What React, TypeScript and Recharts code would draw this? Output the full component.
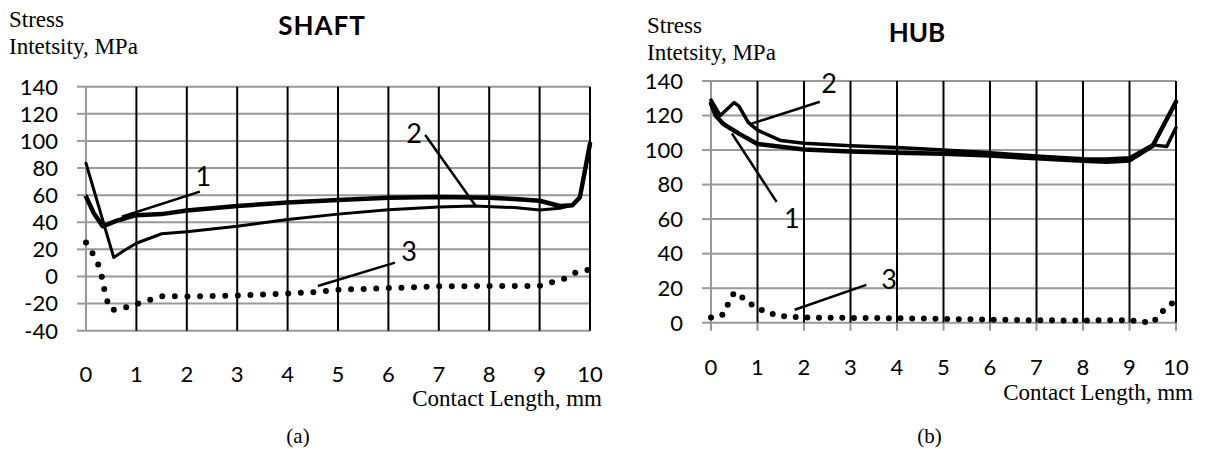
import { LineChart, Line, XAxis, YAxis, CartesianGrid, ReferenceLine, ReferenceDot } from "recharts"

// contact length ticks, mm
const xTicks = [0, 1, 2, 3, 4, 5, 6, 7, 8, 9, 10]
const shaftYTicks = [-40, -20, 0, 20, 40, 60, 80, 100, 120, 140]
const hubYTicks = [0, 20, 40, 60, 80, 100, 120, 140]

// SHAFT, curve 1 (thick)
const shaft1X = [0, 0.15, 0.33, 0.6, 1, 1.5, 2, 3, 4, 5, 6, 7, 8, 8.5, 9, 9.4, 9.65, 9.8, 10]
const shaft1Y = [59, 47, 37, 41, 45.2, 46, 48.6, 52, 54.5, 56.5, 58, 58.7, 58, 57.2, 55.9, 52, 52.5, 58.5, 98]
// SHAFT, curve 2
const shaft2X = [0, 0.55, 0.75, 1, 1.5, 2, 3, 4, 5, 6, 7, 7.7, 8.5, 9, 9.4, 9.65, 9.8, 10]
const shaft2Y = [83.5, 14, 19, 24.5, 31.5, 33, 37, 42, 46, 49.3, 51.3, 52, 50.8, 49, 50.3, 52.5, 58, 97]
// SHAFT, curve 3 (dotted)
const shaft3X = [0, 0.13, 0.24, 0.31, 0.36, 0.42, 0.5, 0.75, 1, 1.25, 1.5, 2, 3, 4, 4.5, 5, 6, 7, 8, 9, 9.25, 9.5, 9.75, 10]
const shaft3Y = [25, 17, 9, 0.5, -9, -18, -25, -23.2, -20.3, -17.5, -14.5, -14.8, -14, -12.5, -11.6, -9.8, -8.6, -7.3, -7, -7, -4.2, -1.5, 3.6, 5]

// HUB, curve 1 (thick)
const hub1X = [0, 0.1, 0.27, 0.6, 1, 2, 3, 4, 5, 6, 7, 8, 8.5, 9, 9.5, 10]
const hub1Y = [127, 120, 115, 109.5, 103.5, 100.3, 99.2, 98.4, 97.8, 96.8, 95.2, 93.8, 93.2, 94, 102.5, 128]
// HUB, curve 2
const hub2X = [0, 0.2, 0.5, 0.6, 0.8, 1, 1.5, 2, 3, 4, 5, 6, 7, 8, 8.5, 9, 9.5, 9.8, 10]
const hub2Y = [129, 120, 127.5, 125.5, 116, 111.5, 105.5, 104, 102.5, 101.5, 100, 98.5, 96.5, 95, 94.8, 95.5, 103, 102, 113]
// HUB, curve 3 (dotted)
const hub3X = [0, 0.25, 0.37, 0.5, 0.72, 0.77, 1, 1.25, 1.5, 1.75, 2, 3, 4, 5, 6, 7, 8, 9, 9.25, 9.5, 9.66, 9.77, 10]
const hub3Y = [3, 4.6, 11, 17.5, 13.8, 12.4, 8.3, 5.6, 3.8, 3.5, 3, 2.8, 2.6, 2.2, 1.8, 1.4, 1.3, 1.5, 0.6, 0, 5.2, 8.2, 13]

// curve labels: text point and leader line ends, in data units
const shaftNotes = [
  { text: "1", at: [2.33, 73.5], from: [2.26, 62.6], to: [0.71, 44.1] },
  { text: "2", at: [6.51, 105.6], from: [6.73, 104.4], to: [7.74, 51.6] },
  { text: "3", at: [6.41, 18.3], from: [6.13, 10.2], to: [4.6, -7] },
]
const hubNotes = [
  { text: "1", at: [1.74, 60.2], from: [1.41, 70], to: [0.45, 109.6] },
  { text: "2", at: [2.54, 138.5], from: [2.34, 128], to: [0.84, 115] },
  { text: "3", at: [3.83, 24.8], from: [3.34, 21.9], to: [1.8, 7.5] },
]

const zip = (xs: number[], ys: number[]) => xs.map((x, i) => ({ x, y: ys[i] }))

const GRID = "#999"
const tickFont = { fill: "#000", fontSize: 22, fontFamily: "Lato" }

type Note = { text: string; at: number[]; from: number[]; to: number[] }

function Panel(props: {
  width: number
  height: number
  margin: { top: number; right: number; bottom: number; left: number }
  yTicks: number[]
  curves: { data: { x: number; y: number }[]; width: number; dotted?: boolean }[]
  notes: Note[]
  dotGap: number
  xTickMarks: boolean
}) {
  const { yTicks } = props
  return (
    <LineChart width={props.width} height={props.height} margin={props.margin}>
      <CartesianGrid horizontal vertical={false} stroke={GRID} strokeWidth={2} />
      <XAxis
        type="number"
        dataKey="x"
        domain={[0, 10]}
        ticks={xTicks}
        interval={0}
        height={50}
        axisLine={false}
        tickLine={props.xTickMarks ? { stroke: GRID, strokeWidth: 2 } : false}
        tickSize={props.xTickMarks ? 8 : 0}
        tickMargin={props.xTickMarks ? 28.5 : 35.5}
        tick={tickFont}
      />
      <YAxis
        type="number"
        domain={[yTicks[0], yTicks[yTicks.length - 1]]}
        ticks={yTicks}
        interval={0}
        width={60}
        axisLine={false}
        tickLine={{ stroke: GRID, strokeWidth: 2 }}
        tickSize={9}
        tickMargin={19}
        tick={tickFont}
      />
      {xTicks.map((t) => (
        <ReferenceLine key={"v" + t} x={t} stroke={t === 0 ? GRID : "#000"} strokeWidth={2} />
      ))}
      {props.curves.map((c, i) => (
        <Line
          key={i}
          data={c.data}
          dataKey="y"
          type="linear"
          stroke="#000"
          strokeWidth={c.width}
          strokeLinejoin="round"
          strokeLinecap="round"
          strokeDasharray={c.dotted ? `0 ${props.dotGap}` : undefined}
          dot={false}
          activeDot={false}
          isAnimationActive={false}
        />
      ))}
      {props.notes.map((n) => (
        <ReferenceLine
          key={"l" + n.text}
          segment={[
            { x: n.from[0], y: n.from[1] },
            { x: n.to[0], y: n.to[1] },
          ]}
          stroke="#000"
          strokeWidth={2.5}
        />
      ))}
      {props.notes.map((n) => (
        <ReferenceDot
          key={"t" + n.text}
          x={n.at[0]}
          y={n.at[1]}
          r={0}
          fill="none"
          stroke="none"
          label={{ value: n.text, position: "center", fill: "#000", fontSize: 27, fontFamily: "Lato" }}
        />
      ))}
    </LineChart>
  )
}

const serif = { fontFamily: "'Liberation Serif', 'Times New Roman', serif", fontSize: 23, lineHeight: "27px", color: "#000" }
const title = { fontFamily: "Lato", fontWeight: 700, fontSize: 26, lineHeight: "30px", color: "#000" }

export default function App() {
  return (
    <div style={{ position: "absolute", left: 0, top: 0, width: 1205, height: 449, background: "#fff", overflow: "hidden" }}>
      <div style={{ position: "absolute", left: 0, top: 0 }}>
        <Panel
          width={625}
          height={449}
          margin={{ top: 86.7, right: 35, bottom: 68.3, left: 26 }}
          yTicks={shaftYTicks}
          curves={[
            { data: zip(shaft2X, shaft2Y), width: 3 },
            { data: zip(shaft1X, shaft1Y), width: 4.5 },
            { data: zip(shaft3X, shaft3Y), width: 6, dotted: true },
          ]}
          notes={shaftNotes}
          dotGap={12.6}
          xTickMarks={false}
        />
      </div>
      <div style={{ position: "absolute", left: 600, top: 0 }}>
        <Panel
          width={605}
          height={449}
          margin={{ top: 81, right: 29, bottom: 76.3, left: 51 }}
          yTicks={hubYTicks}
          curves={[
            { data: zip(hub2X, hub2Y), width: 3.5 },
            { data: zip(hub1X, hub1Y), width: 4.5 },
            { data: zip(hub3X, hub3Y), width: 6, dotted: true },
          ]}
          notes={hubNotes}
          dotGap={11.65}
          xTickMarks
        />
      </div>

      <div style={{ ...serif, position: "absolute", left: 9, top: 6, whiteSpace: "pre" }}>
        {"Stress\nIntetsity, MPa"}
      </div>
      <div style={{ ...serif, position: "absolute", left: 647, top: 12, whiteSpace: "pre" }}>
        {"Stress\nIntetsity, MPa"}
      </div>
      <div style={{ ...title, position: "absolute", left: 322, top: 10, transform: "translateX(-50%)", letterSpacing: 1 }}>SHAFT</div>
      <div style={{ ...title, position: "absolute", left: 917, top: 17, transform: "translateX(-50%)" }}>HUB</div>
      <div style={{ ...serif, position: "absolute", right: 1205 - 602, top: 385, whiteSpace: "nowrap" }}>
        Contact Length, mm
      </div>
      <div style={{ ...serif, position: "absolute", right: 1205 - 1193, top: 379, whiteSpace: "nowrap" }}>
        Contact Length, mm
      </div>
      <div style={{ ...serif, fontSize: 21, lineHeight: "24px", position: "absolute", left: 298, top: 424, transform: "translateX(-50%)" }}>
        (a)
      </div>
      <div style={{ ...serif, fontSize: 21, lineHeight: "24px", position: "absolute", left: 929.5, top: 424, transform: "translateX(-50%)" }}>
        (b)
      </div>
    </div>
  )
}
